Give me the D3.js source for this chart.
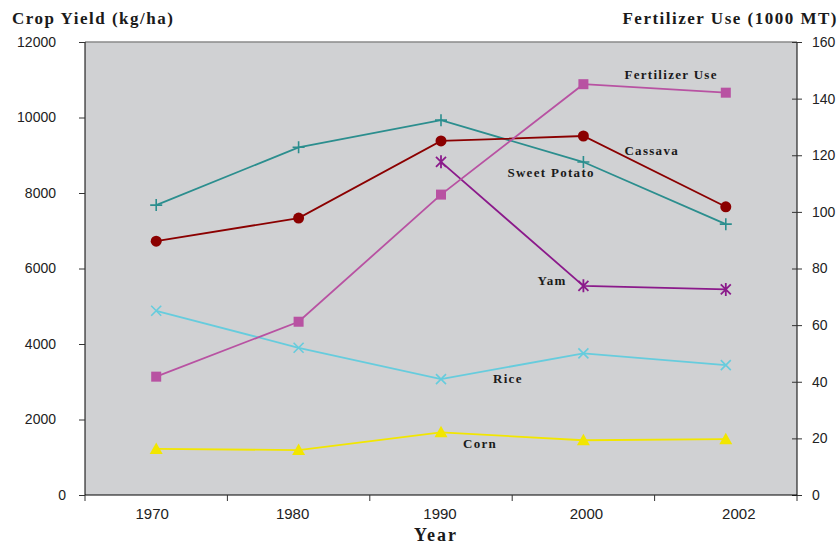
<!DOCTYPE html>
<html>
<head>
<meta charset="utf-8">
<script src="https://cdn.jsdelivr.net/npm/d3@7"></script>
<style>
  body { margin: 0; background: #fff; }
  svg { display: block; }
</style>
</head>
<body>
<svg id="chart" width="840" height="544"></svg>
<script>
// ---- data ----
const years = ["1970", "1980", "1990", "2000", "2002"];
const sweetPotato = [7680, 9210, 9930, 8820, 7175];
const cassava = [6725, 7335, 9380, 9510, 7635];
const yam = [null, null, 8825, 5540, 5445];
const rice = [4880, 3900, 3070, 3750, 3440];
const corn = [1220, 1190, 1660, 1450, 1480];
const fertilizer = [41.8, 61.2, 106.1, 145.1, 142.1];
const leftTicks = [0, 2000, 4000, 6000, 8000, 10000, 12000];
const rightTicks = [0, 20, 40, 60, 80, 100, 120, 140, 160];

// ---- layout ----
const svg = d3.select("#chart");
const L = 85, R = 797, T = 42, B = 495;
const xLabelShift = [-4, -6, -1, 3, 13];

const x = d3.scaleBand().domain(years).range([L, R]).paddingInner(0).paddingOuter(0);
const cx = d => x(d) + x.bandwidth() / 2;
const yL = d3.scaleLinear().domain([0, 12000]).range([B, T]);
const yR = d3.scaleLinear().domain([0, 160]).range([B, T]);

// plot background
svg.append("rect").attr("x", L).attr("y", T).attr("width", R - L).attr("height", B - T)
  .attr("fill", "#D0D1D3");
svg.append("line").attr("x1", L).attr("x2", R).attr("y1", T).attr("y2", T)
  .attr("stroke", "#8a8a8a").attr("stroke-width", 1.5);

const tickFont = "'Liberation Sans', Arial, sans-serif";
const serif = "'Liberation Serif', 'Times New Roman', serif";

// left axis
const gL = svg.append("g").attr("transform", `translate(${L},0)`)
  .call(d3.axisLeft(yL).tickValues(leftTicks).tickSize(6).tickPadding(23).tickFormat(d3.format("d")));
gL.selectAll("text").attr("font-family", tickFont).attr("font-size", 14).attr("fill", "#222")
  .attr("dx", d => d === 0 ? 10 : 0);
gL.select(".domain").attr("d", `M0,${T}V${B}`).attr("stroke", "#000");
gL.selectAll(".tick line").attr("stroke", "#333");

// right axis
const gR = svg.append("g").attr("transform", `translate(${R},0)`)
  .call(d3.axisRight(yR).tickValues(rightTicks).tickSize(5).tickPadding(10).tickFormat(d3.format("d")));
gR.selectAll("text").attr("font-family", tickFont).attr("font-size", 14).attr("fill", "#222");
gR.select(".domain").attr("d", `M0,${T}V${B}`).attr("stroke", "#000");
gR.selectAll(".tick line").attr("x1", -5).attr("stroke", "#333");

// bottom axis
const gB = svg.append("g").attr("transform", `translate(0,${B})`)
  .call(d3.axisBottom(x).tickSize(0).tickPadding(13));
gB.selectAll("text").attr("font-family", tickFont).attr("font-size", 15).attr("fill", "#222")
  .attr("dx", (d, i) => xLabelShift[i]);
gB.select(".domain").attr("d", `M${L},0H${R}`).attr("stroke", "#000");
const bounds = years.map(d => x(d)).concat([R]);
gB.selectAll(".sep").data(bounds).enter().append("line").attr("class", "sep")
  .attr("x1", d => d).attr("x2", d => d).attr("y1", 0).attr("y2", 6).attr("stroke", "#333");

// axis titles
svg.append("text").attr("x", 12).attr("y", 24).text("Crop Yield (kg/ha)")
  .attr("font-family", serif).attr("font-weight", "bold").attr("font-size", 17)
  .attr("letter-spacing", 1.5).attr("fill", "#1a1a1a");
svg.append("text").attr("x", 838).attr("y", 24).attr("text-anchor", "end").text("Fertilizer Use (1000 MT)")
  .attr("font-family", serif).attr("font-weight", "bold").attr("font-size", 17)
  .attr("letter-spacing", 1.5).attr("fill", "#1a1a1a");
svg.append("text").attr("x", 436).attr("y", 541).attr("text-anchor", "middle").text("Year")
  .attr("font-family", serif).attr("font-weight", "bold").attr("font-size", 18)
  .attr("letter-spacing", 2).attr("fill", "#1a1a1a");

// series
const series = [
  { name: "Sweet Potato", values: sweetPotato, y: yL, color: "#2B8E8E", marker: "plus", lab: 3, dx: -76, dy: 15 },
  { name: "Cassava", values: cassava, y: yL, color: "#8B0000", marker: "circle", lab: 3, dx: 41, dy: 19 },
  { name: "Yam", values: yam, y: yL, color: "#8B1A8B", marker: "star", lab: 3, dx: -46, dy: -1 },
  { name: "Rice", values: rice, y: yL, color: "#66CCDD", marker: "cross", lab: 2, dx: 52, dy: 4 },
  { name: "Corn", values: corn, y: yL, color: "#F2E600", marker: "triangle", lab: 2, dx: 22, dy: 16 },
  { name: "Fertilizer Use", values: fertilizer, y: yR, color: "#B852A2", marker: "square", lab: 3, dx: 41, dy: -5 }
];

series.forEach(s => {
  const pts = years.map((yr, i) => ({ yr, v: s.values[i] })).filter(p => p.v !== null);
  const line = d3.line().x(p => cx(p.yr)).y(p => s.y(p.v));
  svg.append("path").attr("d", line(pts)).attr("fill", "none")
    .attr("stroke", s.color).attr("stroke-width", 1.8);
  const g = svg.append("g");
  pts.forEach(p => {
    const px = cx(p.yr), py = s.y(p.v);
    if (s.marker === "circle") {
      g.append("circle").attr("cx", px).attr("cy", py).attr("r", 5.5).attr("fill", s.color);
    } else if (s.marker === "square") {
      g.append("rect").attr("x", px - 5).attr("y", py - 5).attr("width", 10).attr("height", 10).attr("fill", s.color);
    } else if (s.marker === "triangle") {
      g.append("path").attr("d", `M${px},${py - 6.5}L${px + 6.5},${py + 5}L${px - 6.5},${py + 5}Z`).attr("fill", s.color);
    } else if (s.marker === "plus") {
      g.append("path").attr("d", `M${px - 6},${py}H${px + 6}M${px},${py - 6}V${py + 6}`)
        .attr("stroke", s.color).attr("stroke-width", 1.6);
    } else if (s.marker === "cross") {
      g.append("path").attr("d", `M${px - 5},${py - 5}L${px + 5},${py + 5}M${px + 5},${py - 5}L${px - 5},${py + 5}`)
        .attr("stroke", s.color).attr("stroke-width", 1.6);
    } else if (s.marker === "star") {
      g.append("path").attr("d", `M${px - 5},${py - 5}L${px + 5},${py + 5}M${px + 5},${py - 5}L${px - 5},${py + 5}M${px},${py - 6.5}V${py + 6.5}`)
        .attr("stroke", s.color).attr("stroke-width", 1.8);
    }
  });
  const lp = years[s.lab];
  svg.append("text").attr("x", cx(lp) + s.dx).attr("y", s.y(s.values[s.lab]) + s.dy).text(s.name)
    .attr("font-family", serif).attr("font-weight", "bold").attr("font-size", 13)
    .attr("letter-spacing", 1.3).attr("fill", "#1a1a1a");
});
</script>
</body>
</html>
